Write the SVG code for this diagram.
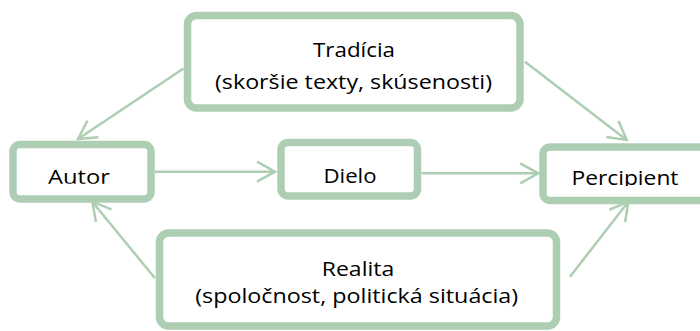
<svg xmlns="http://www.w3.org/2000/svg" width="700" height="331" viewBox="0 0 700 331">
  <style>
    .box { fill: #ffffff; stroke: #AECEB4; stroke-width: 7.5; }
    .conn { fill: none; stroke: #AECEB4; stroke-width: 2.5; }
    .lbl { font-family: "Open Sans", "Liberation Sans", sans-serif; font-size: 20px; fill: #000000; text-anchor: middle; }
  </style>
  <defs>
    <marker id="arrow" markerUnits="userSpaceOnUse" viewBox="-22 -13 26 26" refX="0" refY="0" markerWidth="26" markerHeight="26" orient="auto" overflow="visible">
      <path d="M-18,-10 L0,0 L-18,10" fill="none" stroke="#AECEB4" stroke-width="2.5" stroke-linejoin="miter"/>
    </marker>
    <clipPath id="clipAutor"><rect x="0" y="140" width="200" height="43.8"/></clipPath>
    <clipPath id="clipDielo"><rect x="280" y="140" width="150" height="43.4"/></clipPath>
    <clipPath id="clipPerc"><rect x="540" y="140" width="170" height="46"/></clipPath>
  </defs>

  <g id="connectors">
    <line class="conn" x1="183.5" y1="68.5" x2="78" y2="139" marker-end="url(#arrow)"/>
    <line class="conn" x1="525" y1="61.7" x2="626.7" y2="140" marker-end="url(#arrow)"/>
    <line class="conn" x1="155" y1="171.7" x2="275" y2="171.7" marker-end="url(#arrow)"/>
    <line class="conn" x1="421.7" y1="173.3" x2="538.3" y2="173.3" marker-end="url(#arrow)"/>
    <line class="conn" x1="155" y1="278.3" x2="92.3" y2="201.7" marker-end="url(#arrow)"/>
    <line class="conn" x1="570" y1="276.7" x2="628.3" y2="201.7" marker-end="url(#arrow)"/>
  </g>

  <g id="tradicia">
    <rect class="box" x="187.5" y="15.5" width="332.5" height="92.5" rx="9"/>
    <text class="lbl" x="354" y="56.5" textLength="82" lengthAdjust="spacingAndGlyphs">Tradícia</text>
    <text class="lbl" x="353.5" y="89" textLength="277" lengthAdjust="spacingAndGlyphs">(skoršie texty, skúsenosti)</text>
  </g>

  <g id="autor">
    <rect class="box" x="13" y="144.5" width="138" height="54.5" rx="7"/>
    <text class="lbl" x="79" y="183.5" textLength="62" lengthAdjust="spacingAndGlyphs" clip-path="url(#clipAutor)">Autor</text>
  </g>

  <g id="dielo">
    <rect class="box" x="281" y="142.5" width="136.5" height="53.5" rx="7"/>
    <text class="lbl" x="350" y="183" textLength="53" lengthAdjust="spacingAndGlyphs" clip-path="url(#clipDielo)">Dielo</text>
  </g>

  <g id="percipient">
    <rect class="box" x="543" y="147" width="164" height="53.5" rx="7"/>
    <text class="lbl" x="625" y="185" textLength="107" lengthAdjust="spacingAndGlyphs" clip-path="url(#clipPerc)">Percipient</text>
  </g>

  <g id="realita">
    <rect class="box" x="159.5" y="233" width="397" height="93" rx="9"/>
    <text class="lbl" x="358" y="276" textLength="72.5" lengthAdjust="spacingAndGlyphs">Realita</text>
    <text class="lbl" x="356.7" y="302.5" textLength="323" lengthAdjust="spacingAndGlyphs">(spoločnost, politická situácia)</text>
  </g>
</svg>
